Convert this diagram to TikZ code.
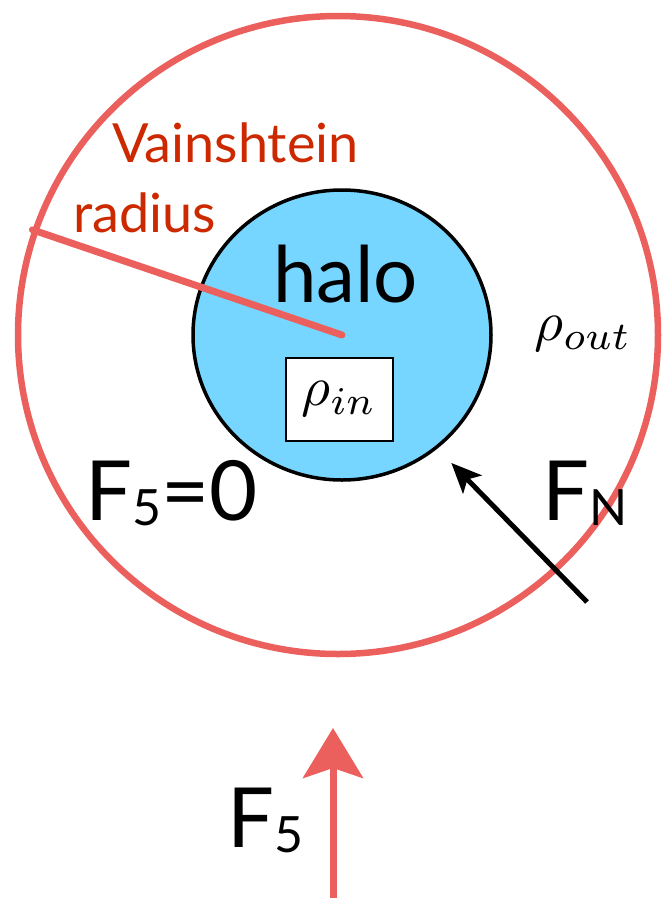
\documentclass[tikz,border=0pt]{standalone}
\usepackage{fontspec}
\setmainfont{Lato}
\usepackage{xcolor}
\usepackage{tikz}
\usetikzlibrary{arrows.meta,shapes.geometric}
\definecolor{vainred}{HTML}{EB5F5C}
\definecolor{vainlabel}{HTML}{CC2900}
\definecolor{haloblue}{HTML}{76D6FF}
\newcommand{\forcesub}[1]{{\fontsize{50}{50}\selectfont\raisebox{-5pt}{#1}}}
\newcommand{\bigrho}[1]{\scalebox{5.6}{$\rho_{#1}$}}

\begin{document}
\begin{tikzpicture}[x=1pt,y=-1pt,
  vaintext/.style={anchor=base west, inner sep=0pt, text=vainlabel, font=\fontsize{54}{54}\selectfont},
  forcetext/.style={anchor=base west, inner sep=0pt, font=\fontsize{83}{83}\selectfont}]
  \useasboundingbox (0,0) rectangle (664,898);

  \node[ellipse, draw=vainred, line width=6.5pt, minimum width=640pt, minimum height=638pt, inner sep=0pt] (vr) at (338,335) {};
  \node[ellipse, draw=black, fill=haloblue, line width=3.5pt, minimum width=298pt, minimum height=290pt, inner sep=0pt] (halo) at (342,335) {};
  \draw[vainred, line width=7pt, line cap=round] (vr.161) -- (halo.center);

  \node[vaintext] (vainname) at (112,162) {Vainshtein};
  \node[vaintext] (vainradius) at (73,232) {radius};
  \node[anchor=base west, inner sep=0pt, font=\fontsize{78}{78}\selectfont] (halolabel) at (273,302) {halo};

  \node[draw=black, fill=white, line width=2pt, minimum width=107pt, minimum height=83pt] (rhoin) at (339,399) {\bigrho{in}};
  \node (rhoout) at (583,334) {\bigrho{out}};

  \node[forcetext] (fzero) at (85,520) {F\forcesub{5}=0};
  \node[forcetext] (fn) at (542,520) {F\forcesub{N}};
  \node[forcetext] (ffive) at (227,847) {F\forcesub{5}};

  \coordinate (fntail) at (587,602);
  \draw[-{Stealth[length=30pt,width=26pt,inset=7pt]}, line width=5pt, shorten >=20pt] (fntail) -- (halo.-50);

  \coordinate (f5tail) at (333,898);
  \coordinate (f5tip) at (333,728);
  \draw[vainred, -{Stealth[length=50pt,width=60pt,inset=10pt]}, line width=7pt] (f5tail) -- (f5tip);
\end{tikzpicture}
\end{document}
